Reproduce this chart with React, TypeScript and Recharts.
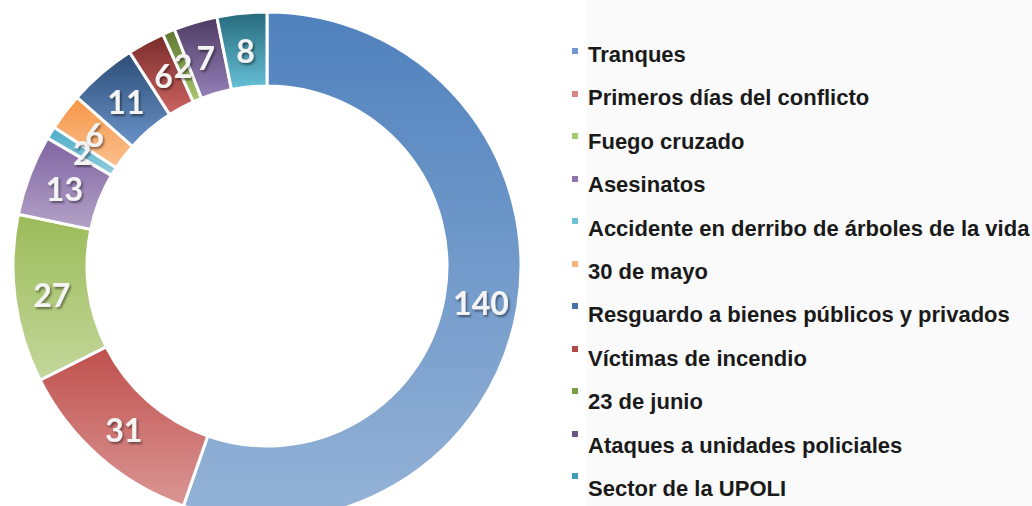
import { PieChart, Pie, Cell } from "recharts";

const categories = [
  "Tranques",
  "Primeros días del conflicto",
  "Fuego cruzado",
  "Asesinatos",
  "Accidente en derribo de árboles de la vida",
  "30 de mayo",
  "Resguardo a bienes públicos y privados",
  "Víctimas de incendio",
  "23 de junio",
  "Ataques a unidades policiales",
  "Sector de la UPOLI",
];

const values = [140, 31, 27, 13, 2, 6, 11, 6, 2, 7, 8];

// gradient stops per slice (top, bottom), Excel 2010 palette
const gradTop = [
  "#4F81BD", "#C0504D", "#9BBB59", "#8064A2", "#4BACC6", "#F79646",
  "#2C4D75", "#772C2A", "#5F7530", "#4D3B62", "#276A7C",
];
const gradBottom = [
  "#95B3D7", "#DA9694", "#C4D79B", "#B3A2C7", "#93CDDD", "#FAC090",
  "#6A93C9", "#CD6462", "#A9C870", "#9580B8", "#66C0D6",
];
const markerColors = [
  "#6F99D0", "#D88784", "#A9C873", "#8F76B0", "#6FC0D6", "#F9B27A",
  "#4A6FA5", "#B44A48", "#7D9B45", "#6A5589", "#3F9BB5",
];

const data = categories.map((name, i) => ({ name, value: values[i] }));

const RAD = Math.PI / 180;

function renderLabel(props: any) {
  const { cx, cy, midAngle, innerRadius, outerRadius, value } = props;
  const r = (innerRadius + outerRadius) / 2;
  const x = cx + r * Math.cos(-midAngle * RAD);
  const y = cy + r * Math.sin(-midAngle * RAD);
  return (
    <text
      x={x}
      y={y}
      fill="#F4F4F4"
      textAnchor="middle"
      dominantBaseline="central"
      fontFamily="Lato, 'Open Sans', sans-serif"
      fontWeight="bold"
      fontSize={32}
      filter="url(#labelShadow)"
    >
      {value}
    </text>
  );
}

export default function App() {
  return (
    <div
      style={{
        position: "fixed",
        left: 0,
        top: 0,
        width: 1032,
        height: 506,
        background: "#ffffff",
        overflow: "hidden",
      }}
    >
      <div
        style={{
          position: "absolute",
          left: 587,
          top: 0,
          width: 445,
          height: 506,
          background: "#FAFAFA",
        }}
      />
      <div style={{ position: "absolute", left: 0, top: 0 }}>
        <PieChart width={1032} height={506} margin={{ top: 0, right: 0, bottom: 0, left: 0 }}>
          <defs>
            {gradTop.map((c, i) => (
              <linearGradient key={i} id={`g${i}`} x1="0" y1="0" x2="0" y2="1">
                <stop offset="0%" stopColor={c} />
                <stop offset="100%" stopColor={gradBottom[i]} />
              </linearGradient>
            ))}
            <filter id="labelShadow" x="-20%" y="-20%" width="140%" height="140%">
              <feDropShadow dx="1.5" dy="2" stdDeviation="1.2" floodColor="#000" floodOpacity="0.45" />
            </filter>
          </defs>
          <Pie
            data={data}
            dataKey="value"
            nameKey="name"
            cx={267}
            cy={266}
            innerRadius={180}
            outerRadius={254}
            startAngle={90}
            endAngle={-270}
            stroke="#ffffff"
            strokeWidth={3}
            label={renderLabel}
            labelLine={false}
            isAnimationActive={false}
          >
            {data.map((_, i) => (
              <Cell key={i} fill={`url(#g${i})`} />
            ))}
          </Pie>
        </PieChart>
      </div>
      {categories.map((name, i) => (
        <div key={name}>
          <div
            style={{
              position: "absolute",
              left: 572,
              top: 48 + i * 42.5,
              width: 6,
              height: 6,
              background: markerColors[i],
            }}
          />
          <div
            style={{
              position: "absolute",
              left: 588,
              top: 62 + i * 43.4 - 20,
              fontFamily: "'Liberation Sans', Arial, sans-serif",
              fontWeight: "bold",
              fontSize: 22,
              lineHeight: "25px",
              color: "#1A1A1A",
              whiteSpace: "nowrap",
            }}
          >
            {name}
          </div>
        </div>
      ))}
    </div>
  );
}
